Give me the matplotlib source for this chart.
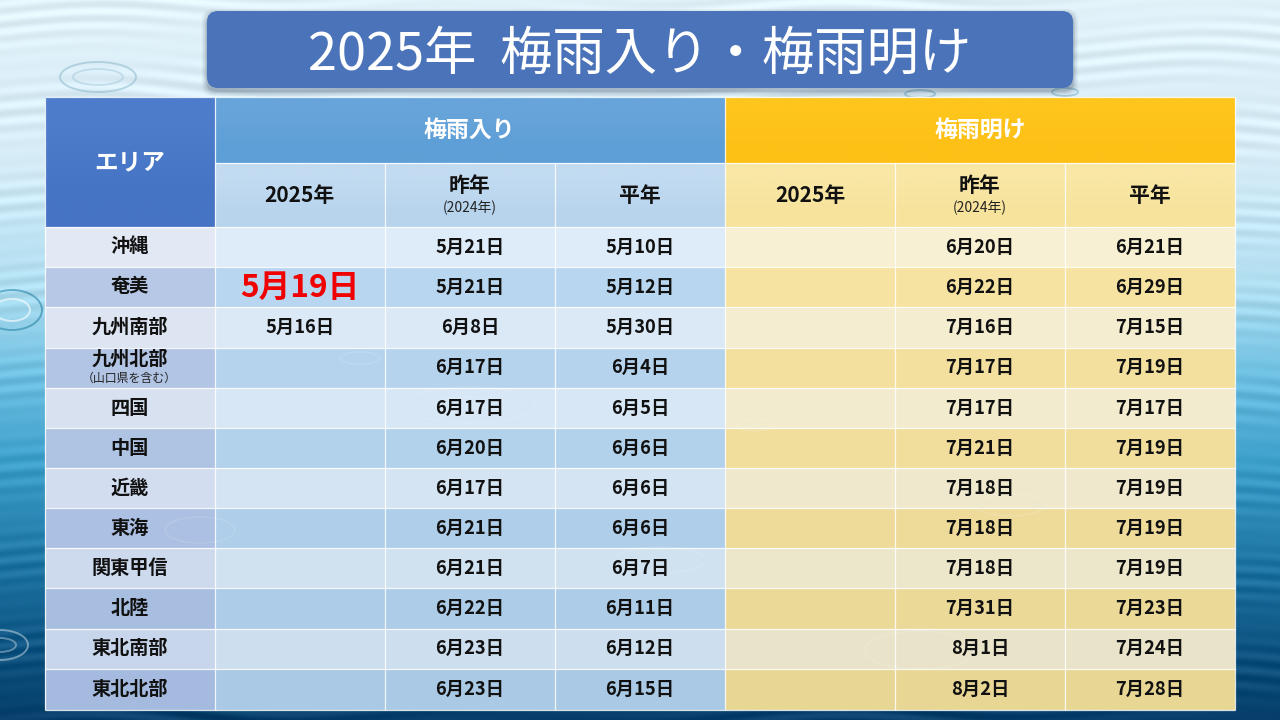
import numpy as np
import matplotlib
matplotlib.use("Agg")
import matplotlib.pyplot as plt
from matplotlib.patches import Rectangle, FancyBboxPatch, Ellipse
from matplotlib.colors import to_rgb

plt.rcParams['font.family'] = ['Noto Sans CJK JP', 'DejaVu Sans']

TITLE = "2025年  梅雨入り・梅雨明け"
areas = ["沖縄", "奄美", "九州南部", "九州北部", "四国", "中国", "近畿", "東海", "関東甲信", "北陸", "東北南部", "東北北部"]
area_note = {3: "（山口県を含む）"}
iri_2025 = ["", "5月19日", "5月16日", "", "", "", "", "", "", "", "", ""]
iri_2024 = ["5月21日", "5月21日", "6月8日", "6月17日", "6月17日", "6月20日", "6月17日", "6月21日", "6月21日", "6月22日", "6月23日", "6月23日"]
iri_avg = ["5月10日", "5月12日", "5月30日", "6月4日", "6月5日", "6月6日", "6月6日", "6月6日", "6月7日", "6月11日", "6月12日", "6月15日"]
ake_2025 = [""] * 12
ake_2024 = ["6月20日", "6月22日", "7月16日", "7月17日", "7月17日", "7月21日", "7月18日", "7月18日", "7月18日", "7月31日", "8月1日", "8月2日"]
ake_avg = ["6月21日", "6月29日", "7月15日", "7月19日", "7月17日", "7月19日", "7月19日", "7月19日", "7月19日", "7月23日", "7月24日", "7月28日"]
columns = [iri_2025, iri_2024, iri_avg, ake_2025, ake_2024, ake_avg]
sub_heads = ["2025年", "昨年", "平年", "2025年", "昨年", "平年"]
sub_note = "(2024年)"

x_edges = [45, 214.5, 385, 555, 725, 895, 1065, 1235]
y_head = [97, 163, 227]
y_rows = [227, 267, 307, 347.5, 388, 428, 468, 508, 548, 588, 628.5, 669, 709.5]

fig = plt.figure(figsize=(12.8, 7.2), dpi=100)
ax = fig.add_axes([0, 0, 1, 1])
ax.set_xlim(0, 1280)
ax.set_ylim(720, 0)
ax.axis("off")

# water background: vertical gradient with a fine wave texture
H, W = 720, 1280
yy, xx = np.mgrid[0:H, 0:W]
v = yy / (H - 1)
stops_y = [0, .22, .40, .52, .64, .78, .90, 1]
stops_c = np.array([[226, 242, 249], [214, 236, 247], [176, 222, 241], [110, 192, 226],
                    [62, 160, 204], [30, 118, 165], [14, 84, 130], [6, 62, 105]], float)
img = np.stack([np.interp(v, stops_y, stops_c[:, i]) for i in range(3)], axis=-1)
wave = (np.sin(yy * 0.42 + 2.4 * np.sin(xx * 0.017) + 1.4 * np.sin(xx * 0.006 + yy * 0.02))
        * (0.55 + 0.45 * np.sin(xx * 0.009 + yy * 0.07)))
img = np.clip(img + wave[..., None] * 11, 0, 255) / 255
ax.imshow(img, extent=(0, 1280, 720, 0), aspect="auto", zorder=0, interpolation="bilinear")

# ripples in the water
for cx, cy, w, h, c, a in [(98, 77, 76, 30, "#8fb9cc", .55), (98, 77, 50, 16, "#9fc5d5", .45),
                           (12, 310, 60, 40, "#1f7e9f", .55), (12, 310, 36, 22, "white", .6),
                           (0, 645, 56, 30, "white", .4), (0, 645, 32, 14, "white", .35),
                           (920, 94, 30, 8, "#6fa9c2", .5), (1065, 92, 26, 8, "#6fa9c2", .5)]:
    ax.add_patch(Ellipse((cx, cy), w, h, fill=False, ec=c, alpha=a, lw=1.4, zorder=1))

def mix(a, b, t):
    a, b = np.array(to_rgb(a)), np.array(to_rgb(b))
    return tuple(a + (b - a) * t)

def vgrad(x0, x1, y0, y1, top, bottom):
    g = np.array([[mix(top, bottom, 0)], [mix(top, bottom, 1)]])
    ax.imshow(g, extent=(x0, x1, y1, y0), aspect="auto", zorder=2, interpolation="bilinear")

# header cells
vgrad(x_edges[0], x_edges[1], y_head[0], y_head[2], "#4d7ccb", "#4674c5")
vgrad(x_edges[1], x_edges[4], y_head[0], y_head[1], "#67a4da", "#5e9fd7")
vgrad(x_edges[4], x_edges[7], y_head[0], y_head[1], "#fec51c", "#fdc016")
vgrad(x_edges[1], x_edges[4], y_head[1], y_head[2], "#c2dbf1", "#b8d4ed")
vgrad(x_edges[4], x_edges[7], y_head[1], y_head[2], "#f9e7a6", "#f7e39c")

# body cells: banded fills that darken towards the bottom
bands = {
    "area": (("#e2e8f4", "#c5d4ea"), ("#b8c9e7", "#a4bbdf")),
    "blue": (("#deecf9", "#cbdded"), ("#b9d7f0", "#a9c9e5")),
    "gold": (("#f7f0d2", "#e8e2c8"), ("#f8e4a2", "#e8d695")),
}
n = len(areas)
for r in range(n):
    t = r / (n - 1)
    y0, y1 = y_rows[r], y_rows[r + 1]
    idx = r % 2
    for key, x0, x1 in [("area", x_edges[0], x_edges[1]), ("blue", x_edges[1], x_edges[4]),
                        ("gold", x_edges[4], x_edges[7])]:
        top, bot = bands[key][idx]
        ax.add_patch(Rectangle((x0, y0), x1 - x0, y1 - y0, fc=mix(top, bot, t), ec="none", zorder=2))

# ripples visible through the table
for cx, cy, w, h in [(470, 405, 130, 36), (470, 405, 70, 16), (660, 560, 90, 26), (920, 650, 110, 38),
                     (1010, 505, 70, 22), (755, 425, 36, 12), (200, 530, 70, 26), (360, 358, 40, 12)]:
    ax.add_patch(Ellipse((cx, cy), w, h, fill=False, ec="white", alpha=.12, lw=1.2, zorder=3))

# grid lines
GRID = dict(color="white", lw=0.9, zorder=4, alpha=.85, solid_capstyle="butt")
for y in y_rows:
    ax.plot([x_edges[0], x_edges[-1]], [y, y], **GRID)
ax.plot([x_edges[1], x_edges[-1]], [y_head[1]] * 2, **GRID)
ax.plot([x_edges[0], x_edges[-1]], [y_head[0]] * 2, **GRID)
ax.plot([x_edges[0]] * 2, [y_head[0], y_rows[-1]], **GRID)
ax.plot([x_edges[-1]] * 2, [y_head[0], y_rows[-1]], **GRID)
ax.plot([x_edges[1]] * 2, [y_head[0], y_rows[-1]], **GRID)
ax.plot([x_edges[4]] * 2, [y_head[0], y_rows[-1]], **GRID)
for i in (2, 3, 5, 6):
    ax.plot([x_edges[i]] * 2, [y_head[1], y_rows[-1]], **GRID)

# title panel with a soft drop shadow
for grow, a in [(5, .05), (3.5, .07), (2, .09), (1, .10)]:
    ax.add_patch(FancyBboxPatch((207 - grow, 14 - grow), 866 + 2 * grow, 77 + 2 * grow,
                                boxstyle="round,pad=0,rounding_size=12",
                                fc="#1c2c48", ec="none", alpha=a, lw=0, zorder=5))
ax.add_patch(FancyBboxPatch((207, 11), 866, 77, boxstyle="round,pad=0,rounding_size=11",
                            fc="#4b73b9", ec="none", zorder=6))
ax.text(640, 55, TITLE, color="white", fontsize=37.7, ha="center", va="center", weight="regular", zorder=7)

# header text
BOLD = dict(ha="center", va="center", weight="bold", zorder=7)
ax.text((x_edges[0] + x_edges[1]) / 2, 162, "エリア", color="white", fontsize=17, **BOLD)
ax.text((x_edges[1] + x_edges[4]) / 2, 130, "梅雨入り", color="white", fontsize=16.5, **BOLD)
ax.text((x_edges[4] + x_edges[7]) / 2, 130, "梅雨明け", color="white", fontsize=16.5, **BOLD)
for c, label in enumerate(sub_heads):
    cx = (x_edges[c + 1] + x_edges[c + 2]) / 2
    if label == "昨年":
        ax.text(cx, 186, label, color="#111111", fontsize=15, **BOLD)
        ax.text(cx, 208, sub_note, color="#222222", fontsize=10, ha="center", va="center", zorder=7)
    else:
        ax.text(cx, 195, label, color="#111111", fontsize=15, **BOLD)

# body text
for r, name in enumerate(areas):
    cy = (y_rows[r] + y_rows[r + 1]) / 2
    cx = (x_edges[0] + x_edges[1]) / 2
    if r in area_note:
        ax.text(cx, cy - 9, name, color="#111111", fontsize=13.8, **BOLD)
        ax.text(cx, cy + 11, area_note[r], color="#222222", fontsize=8.6, ha="center", va="center", zorder=7)
    else:
        ax.text(cx, cy, name, color="#111111", fontsize=13.8, **BOLD)
    for c, col in enumerate(columns):
        val = col[r]
        if not val:
            continue
        tx = (x_edges[c + 1] + x_edges[c + 2]) / 2
        if c == 0 and r == 1:
            ax.text(tx, cy + 1, val, color="#f00000", fontsize=22.8, **BOLD)
        else:
            ax.text(tx, cy, val, color="#111111", fontsize=13.2, **BOLD)

fig.savefig("out.png", dpi=100)
